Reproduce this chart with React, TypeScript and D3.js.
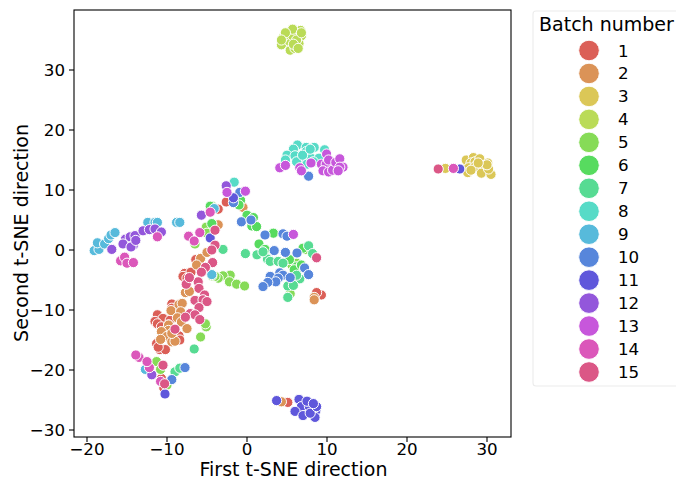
import * as d3 from "d3";

type Pt = [number, number];

const batch1: Pt[] = [[-11.2,-10.8],[-10.5,-11.4],[-11.5,-11.9],[-11.2,-12.3],[-10.7,-12.8],[-9.6,-11.7],[-9.4,-9],[-9.4,-9.7],[-11.3,-15.6],[-10.9,-16.6],[-10.2,-16.6],[-11.1,-16.2],[-8.5,-14.3],[-8.4,-15],[-9.8,-12.5],[-10.7,-21.4],[-10.4,-23],[-2.6,8],[-3.6,6.8],[9.3,-7.5],[8.7,-7.1],[-6.4,-1.6],[-7.8,-3.9],[-7,-3.7],[-8,-4.4],[-7.5,-4.7],[5.1,-25.4]];
const batch2: Pt[] = [[-8.5,-9.1],[-8.1,-8.9],[-9.5,-10.1],[-8.3,-10.3],[-8.7,-11.3],[-8.2,-12],[-9.8,-12.5],[-9.8,-13.4],[-10.7,-13.6],[-10,-14.4],[-10.8,-14.9],[-9.4,-15.3],[-9,-15.2],[-7.5,-13.1],[-9.4,-13.9],[-7.7,-7.1],[-7.2,-6.9],[-5.8,-1.4],[-6.3,-2.5],[-5,-0.4],[-3.6,4.2],[-0.5,7.1],[8.4,-7.9],[8.4,-8.3],[4.3,-25.3]];
const batch3: Pt[] = [[24.8,13.6],[27.3,13.6],[27.4,15],[28.3,15.4],[28,14.5],[28.5,14.7],[29.1,15.2],[27.7,13.7],[27.6,12.9],[28.5,13.9],[29.5,13.8],[30.1,14.5],[29.3,12.8],[30.5,12.6],[30.2,13.5],[30,14.2],[28.9,14.5],[28,13.3]];
const batch4: Pt[] = [[4.3,34.2],[5.4,33.3],[5.3,34.8],[4.6,35.6],[5.7,35.7],[6.7,36.6],[5.7,36.8],[6.8,35.7],[6.5,34.4],[6,33.6],[4.8,36.2],[6.2,35],[5.8,34.3],[6.4,33.6],[4.3,35],[6.8,36.2]];
const batch5: Pt[] = [[-5.1,3.8],[-5,2.8],[-4.4,7.3],[-6.5,1],[-2.1,-4.2],[-3,-4.3],[-3.6,-4.7],[-4,-4.4],[-2.2,-5.3],[-1.3,-5.7],[-0.3,-6],[-4.4,-4.3],[-5.1,-12.8],[-5.2,-12.3],[-5.8,-14.5],[-11.3,-18.6],[-10.8,-19.9],[-10,-22.5],[5.4,-7.3],[5.6,-2.5],[6.2,-2.2],[6.2,-3.2],[2.3,0],[7.3,0.1]];
const batch6: Pt[] = [[0,5.8],[0.8,5.4],[0.6,4],[1.2,3.9],[3.3,2.8],[1.5,1],[2.25,0.1],[-0.8,8.3],[-1,7.5],[-4.6,7.3],[-4.4,4.4],[5.3,-1.6],[6.2,-2.8],[5.9,-3.3],[6.8,-2.5],[7,0.3]];
const batch7: Pt[] = [[-3,0.1],[-0.2,-0.6],[1.25,-0.8],[2.55,-1.5],[2.9,-1.9],[3.9,-1.9],[4.5,-2.2],[7.7,0.7],[8.2,-0.6],[2,-0.3],[6.6,-4.8],[5.1,-6],[5.8,-5.9],[5.1,-7.9],[-6.6,-16.5],[-9,-20.3],[-8.4,-19.7],[6.2,-4.2]];
const batch8: Pt[] = [[6.3,17.5],[5.8,16.8],[5,15.8],[6,15.7],[7.4,17.1],[8.4,17.1],[7.4,16.4],[6.9,15.1],[6.2,14.7],[4.8,15],[8,15.3],[9,15.3],[9.7,16.7],[6.95,15.8],[7.9,16.8],[8.3,14.7],[7.5,14.3],[-1.6,11.3]];
const batch9: Pt[] = [[-19.1,-0.1],[-18.5,0.1],[-18.7,1.2],[-17.8,1],[-17.3,1.9],[-17,2.5],[-16.5,2.9],[-12.4,4.6],[-11.5,4.6],[-11.2,4.6],[-8.8,4.6],[-8.4,4.6],[-4.4,-4.1],[-4.1,6.9],[-12.7,-19.9]];
const batch10: Pt[] = [[-0.9,9.6],[-1.7,7.9],[-0.7,4.7],[0.5,5],[2.25,2.5],[4.5,2.7],[5,2.3],[3.4,-0.1],[4.8,-0.4],[6.25,-0.5],[7.2,-3],[7.7,-4.1],[4.1,-3.8],[4.5,-4.2],[5.4,-4.6],[2.9,-4.4],[3.9,-4.7],[3.6,-5.3],[2.6,-5.4],[2,-6.1],[-7.75,-19.6],[-9.4,-21.6],[7.7,12.3]];
const batch11: Pt[] = [[-1.7,8.7],[-4.6,2],[-10.25,-24],[3.7,-25.1],[6.5,-24.9],[6.8,-26.1],[6,-26.9],[7.8,-26.1],[8.6,-26.8],[7.5,-25.2],[8.5,-27.9],[7,-27.6],[7.9,-27.2],[8.7,-26.1],[8.3,-25.6],[26.6,13.5]];
const batch12: Pt[] = [[-16.9,0.1],[-15.2,1.8],[-15.5,1],[-14.6,2.2],[-14,2.4],[-14.2,0.8],[-14.5,0.5],[-13.9,1.6],[-13,3.2],[-12.2,3.4],[-11.5,3.5],[-10.7,3],[-5.7,5.8],[-2.6,10.7],[-11.9,-20.8]];
const batch13: Pt[] = [[-2.5,9.6],[-0.2,9.8],[5.8,2.6],[4.1,13.7],[4.8,14.1],[6.6,13.7],[6.8,13.2],[8,14.5],[9.95,16],[9.3,14.3],[9.9,14.3],[10.2,15],[9.5,13.2],[10.2,13],[10.7,13.3],[11.1,14.6],[11.6,15.2],[12,13.8],[11.6,13.8],[11.4,13.2]];
const batch14: Pt[] = [[-11.2,2.2],[-15.8,-1.8],[-15.3,-1.2],[-15,-2.2],[-14.2,-2.1],[-7.3,2.3],[-6.6,1.5],[-5.9,2.9],[-4.6,6.3],[-13.5,-17.9],[-13.9,-17.5],[-12.2,-19.6],[-10.8,-21.9],[-12.5,-18.6],[25.8,13.6]];
const batch15: Pt[] = [[-4,3.3],[-4,0.8],[-4.4,0],[-4.3,-2.1],[-5.2,-2.9],[-5.7,-3.7],[-6.1,-5.3],[-7.6,-5.7],[-7.2,-4.6],[-6,-6.4],[-5.3,-7.5],[-6.5,-8.4],[-5.5,-8.3],[-5,-8.6],[-6,-9.6],[-7.1,-10.6],[-6.5,-10.8],[-7.7,-11.2],[-5.9,-11.6],[-9,-13.2],[-10.5,-19.2],[-10.3,-22.3],[8.7,-1.3],[23.9,13.5]];

const batches = [batch1, batch2, batch3, batch4, batch5, batch6, batch7, batch8, batch9, batch10, batch11, batch12, batch13, batch14, batch15];
const batchLabels = batches.map((_, i) => String(i + 1));
const COLORS = ["#db5f57", "#db9357", "#dbc757", "#badb57", "#86db57", "#57db5f", "#57db93", "#57dbc7", "#57badb", "#5786db", "#5f57db", "#9357db", "#c757db", "#db57ba", "#db5786"];

const xTicks = [-20, -10, 0, 10, 20, 30];
const yTicks = [-30, -20, -10, 0, 10, 20, 30];

const WIDTH = 676;
const HEIGHT = 479;
const plot = { left: 74, right: 511, top: 10, bottom: 437 };
const FONT = "'DejaVu Sans', sans-serif";

export default function App() {
  // domain picked so that -20..30 lands on 87..487 and -30..30 on 430..70
  const x = d3.scaleLinear().domain([-20, 30]).range([87, 487]);
  const y = d3.scaleLinear().domain([-30, 30]).range([430, 70]);
  const legendY = d3.scalePoint<string>().domain(batchLabels).range([50.5, 372]);

  return (
    <svg
      width={WIDTH}
      height={HEIGHT}
      style={{ position: "absolute", left: 0, top: 0, background: "#fff" }}
      fontFamily={FONT}
    >
      {batches.map((pts, i) =>
        pts.map((p, j) => (
          <circle
            key={`${i}-${j}`}
            cx={x(p[0])}
            cy={y(p[1])}
            r={5.1}
            fill={COLORS[i]}
            stroke="#fff"
            strokeWidth={1}
          />
        )),
      )}

      {/* Frame */}
      <rect
        x={plot.left}
        y={plot.top}
        width={plot.right - plot.left}
        height={plot.bottom - plot.top}
        fill="none"
        stroke="#000"
        strokeWidth={1.1}
      />

      {xTicks.map((t) => (
        <g key={t}>
          <line x1={x(t)} x2={x(t)} y1={plot.bottom} y2={plot.bottom + 5} stroke="#000" strokeWidth={1.1} />
          <text x={x(t)} y={plot.bottom + 18} textAnchor="middle" fontSize={16.7} fill="#000">
            {t < 0 ? `\u2212${-t}` : t}
          </text>
        </g>
      ))}
      {yTicks.map((t) => (
        <g key={t}>
          <line x1={plot.left - 5} x2={plot.left} y1={y(t)} y2={y(t)} stroke="#000" strokeWidth={1.1} />
          <text x={plot.left - 9} y={y(t)} dy="0.36em" textAnchor="end" fontSize={16.7} fill="#000">
            {t < 0 ? `\u2212${-t}` : t}
          </text>
        </g>
      ))}

      <text x={293.5} y={476} textAnchor="middle" fontSize={19} fill="#000">
        First t-SNE direction
      </text>
      <text
        transform={`translate(28,${plot.top + 223}) rotate(-90)`}
        textAnchor="middle"
        fontSize={19}
        fill="#000"
      >
        Second t-SNE direction
      </text>

      {/* Legend */}
      <rect x={533} y={11} width={150} height={375} rx={3} fill="#fff" stroke="#ececec" strokeWidth={1.1} />
      <text x={539} y={31} fontSize={19} fill="#000">
        Batch number
      </text>
      {batchLabels.map((label, i) => (
        <g key={label}>
          <circle cx={589} cy={legendY(label)} r={10.3} fill={COLORS[i]} stroke="#fff" strokeWidth={0.9} />
          <text x={618} y={legendY(label)} dy="0.36em" fontSize={16.7} fill="#000">
            {label}
          </text>
        </g>
      ))}
    </svg>
  );
}
